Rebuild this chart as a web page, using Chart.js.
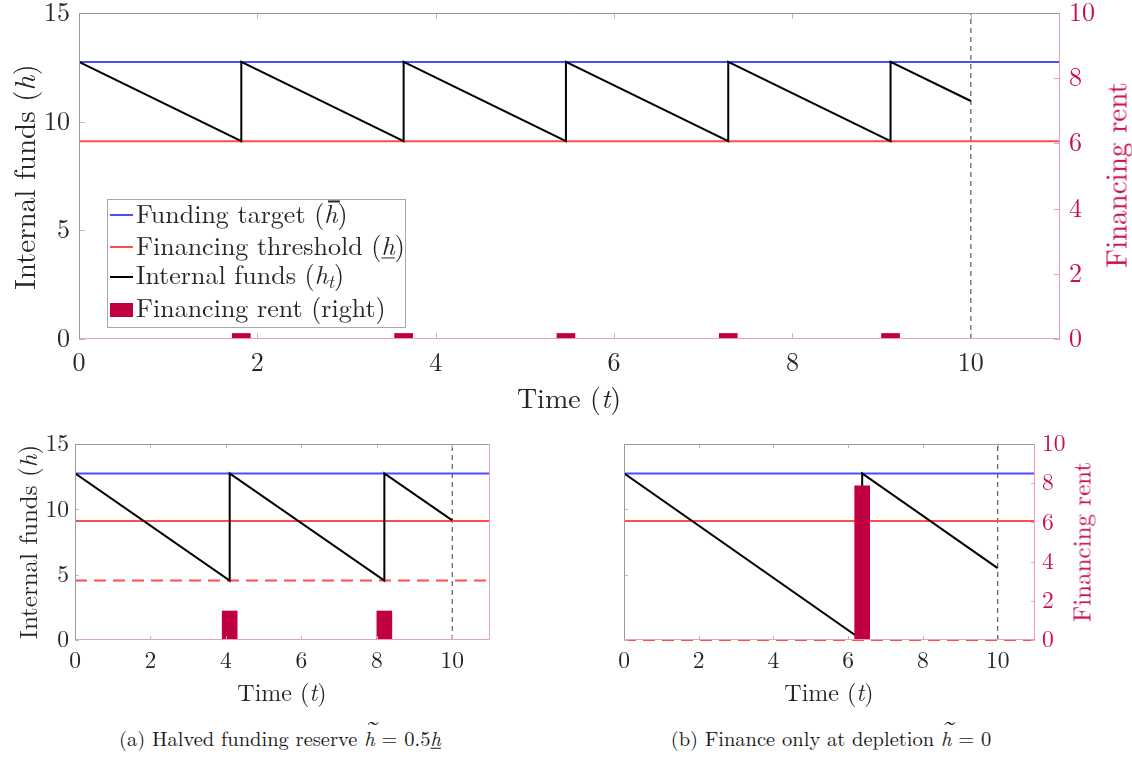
<!DOCTYPE html>
<html>
<head>
<meta charset="utf-8">
<script src="https://cdn.jsdelivr.net/npm/chart.js@4.4.1/dist/chart.umd.min.js"></script>
<style>
  html, body { margin:0; padding:0; background:#fff; }
  body { width:1132px; height:757px; position:relative; overflow:hidden; }
  .box { position:absolute; }
  .t { position:absolute; font-family:'Latin Modern Roman','Liberation Serif',serif; color:#262626; white-space:nowrap; transform:translate(-50%,-50%); line-height:1; }
  .cap { color:#1a1a1a; }
  .rot { transform:translate(-50%,-50%) rotate(-90deg); }
  .crim { color:#c8104a; }
  #legend { position:absolute; left:107px; top:199px; width:297px; height:127px; border:1px solid #a8a8a8; background:#fff; z-index:5; }
  .lrow { position:absolute; left:0; height:30px; width:100%; font-family:'Latin Modern Roman','Liberation Serif',serif; font-size:26px; color:#262626; white-space:nowrap; }
  .lsw { position:absolute; left:2px; width:23px; }
  .ltx { position:absolute; left:28px; top:50%; transform:translateY(-56%); line-height:1; }
  .un { text-decoration:underline; text-decoration-thickness:1px; text-underline-offset:2px; }
  .acc { position:relative; display:inline-block; }
  .acc .bar { position:absolute; left:0.16em; width:0.46em; height:1.5px; background:currentColor; top:0.0em; }
  .acc .tl { position:absolute; left:0.02em; top:-0.5em; font-style:normal; display:inline-block; transform:scaleX(1.6); transform-origin:left center; }
</style>
</head>
<body>
<div class="box" style="left:0;top:0;width:1132px;height:420px"><canvas id="cTop"></canvas></div>
<div class="box" style="left:0;top:420px;width:566px;height:260px"><canvas id="cA"></canvas></div>
<div class="box" style="left:566px;top:420px;width:566px;height:260px"><canvas id="cB"></canvas></div>

<!-- top panel texts -->
<div class="t rot" style="left:22px;top:177px;font-size:29px">Internal funds (<i>h</i>)</div>
<div class="t rot crim" style="left:1114px;top:175px;font-size:29px">Financing rent</div>
<div class="t" style="left:569px;top:396px;font-size:28px">Time (<i>t</i>)</div>

<div id="legend">
  <div class="lrow" style="top:0px"><div class="lsw" style="top:14px;height:2px;background:rgb(77,77,255)"></div><div class="ltx">Funding target (<span class="acc"><i>h</i><span class="bar"></span></span>)</div></div>
  <div class="lrow" style="top:32px"><div class="lsw" style="top:14px;height:2px;background:rgb(255,77,77)"></div><div class="ltx">Financing threshold (<i class="un">h</i>)</div></div>
  <div class="lrow" style="top:62px"><div class="lsw" style="top:14px;height:2px;background:#000"></div><div class="ltx">Internal funds (<i>h</i><sub style="font-size:18px;vertical-align:-4px"><i>t</i></sub>)</div></div>
  <div class="lrow" style="top:94px"><div class="lsw" style="top:9px;height:14px;background:#c0003f"></div><div class="ltx">Financing rent (right)</div></div>
</div>

<!-- panel a texts -->
<div class="t rot" style="left:26px;top:542px;font-size:25px">Internal funds (<i>h</i>)</div>
<div class="t" style="left:282px;top:691px;font-size:24px">Time (<i>t</i>)</div>
<div class="t cap" style="left:280px;top:738px;font-size:20.5px">(a) Halved funding reserve <span class="acc"><i>h</i><span class="tl">&#732;</span></span> = 0.5<i class="un">h</i></div>

<!-- panel b texts -->
<div class="t rot crim" style="left:1080px;top:542px;font-size:25px">Financing rent</div>
<div class="t" style="left:829px;top:691px;font-size:24px">Time (<i>t</i>)</div>
<div class="t cap" style="left:831px;top:738px;font-size:20.5px">(b) Finance only at depletion <span class="acc"><i>h</i><span class="tl">&#732;</span></span> = 0</div>

<script>
// ---------------- data ----------------
const xTicks = [0, 2, 4, 6, 8, 10];
const yLeftTicks = [0, 5, 10, 15];
const yRightTicks = [0, 2, 4, 6, 8, 10];
const timeRange = [0, 11];
const fundsRange = [0, 15];
const rentRange = [0, 10];

const fundingTarget = 12.75;
const financingThreshold = 9.1;
const horizon = 10;

// main panel
const topTimes = [0, 1.82, 1.82, 3.64, 3.64, 5.46, 5.46, 7.28, 7.28, 9.1, 9.1, 10];
const topFunds = [12.75, 9.1, 12.75, 9.1, 12.75, 9.1, 12.75, 9.1, 12.75, 9.1, 12.75, 10.95];
const topRentTimes = [1.82, 3.64, 5.46, 7.28, 9.1];
const topRent = [0.17, 0.17, 0.17, 0.17, 0.17];

// panel (a): halved reserve
const aReserve = 4.55;
const aTimes = [0, 4.1, 4.1, 8.2, 8.2, 10];
const aFunds = [12.75, 4.55, 12.75, 4.55, 12.75, 9.15];
const aRentTimes = [4.1, 8.2];
const aRent = [1.48, 1.48];

// panel (b): finance only at depletion
const bReserve = 0;
const bTimes = [0, 6.375, 6.375, 10];
const bFunds = [12.75, 0, 12.75, 5.5];
const bRentTimes = [6.375];
const bRent = [7.87];

// ---------------- styling ----------------
const FONT = "'Latin Modern Roman','Liberation Serif',serif";
const BLUE = 'rgb(77,77,255)', RED = 'rgb(255,77,77)', CRIMSON = '#c0003f', CRIMSON_TXT = '#c8104a';
const GREY_AX = '#9a9a9a', PINK_AX = '#eaa0b8';

const pts = (xs, ys) => xs.map((x, i) => ({x, y: ys[i]}));
const hline = v => pts(timeRange, [v, v]);
const vline = v => pts([v, v], fundsRange);

const framePlugin = {
  id: 'frame',
  afterDatasetsDraw(chart, args, o) {
    const {ctx, chartArea: {left, right, top, bottom}} = chart;
    const sx = chart.scales.x, sy = chart.scales.y, sr = chart.scales.y2;
    const L = o.tickLen;
    ctx.save();
    ctx.lineWidth = 1;
    const seg = (x1, y1, x2, y2) => { ctx.beginPath(); ctx.moveTo(x1, y1); ctx.lineTo(x2, y2); ctx.stroke(); };
    ctx.strokeStyle = '#b8b8b8';
    xTicks.forEach(v => { const p = Math.round(sx.getPixelForValue(v)) + 0.5; seg(p, bottom, p, bottom - L); seg(p, top, p, top + L); });
    if (o.leftTicks) yLeftTicks.forEach(v => { const p = Math.round(sy.getPixelForValue(v)) + 0.5; seg(left, p, left + L, p); });
    ctx.strokeStyle = PINK_AX;
    if (o.rightTicks) yRightTicks.forEach(v => { const p = Math.round(sr.getPixelForValue(v)) + 0.5; seg(right, p, right - L, p); });
    const l = Math.round(left) + 0.5, r = Math.round(right) - 0.5, t = Math.round(top) + 0.5, b = Math.round(bottom) - 0.5;
    ctx.strokeStyle = GREY_AX; seg(l, t, r, t); seg(l, t, l, b);
    ctx.strokeStyle = PINK_AX; seg(r, t, r, b); seg(l, b, r, b);
    ctx.restore();
  }
};

function makeChart(id, p) {
  const datasets = [
    {type: 'bar', data: pts(p.rentTimes, p.rent), backgroundColor: CRIMSON, borderWidth: 0,
     barThickness: p.barW, xAxisID: 'x', yAxisID: 'y2', order: 0, grouped: false},
    {type: 'line', data: pts(p.times, p.funds), borderColor: '#000', borderWidth: 2, yAxisID: 'y', order: 1},
    {type: 'line', data: hline(fundingTarget), borderColor: BLUE, borderWidth: 2, yAxisID: 'y', order: 3},
    {type: 'line', data: hline(financingThreshold), borderColor: RED, borderWidth: 2, yAxisID: 'y', order: 3},
    {type: 'line', data: vline(horizon), borderColor: '#666', borderWidth: 1.3, borderDash: [5, 4], yAxisID: 'y', order: 4}
  ];
  if (p.reserve !== undefined) {
    datasets.push({type: 'line', data: hline(p.reserve), borderColor: RED, borderWidth: 2, borderDash: [12, 7], yAxisID: 'y', order: 2, clip: false});
  }
  datasets.forEach(d => { if (d.type === 'line') { d.pointRadius = 0; d.tension = 0; d.fill = false; } });

  const tickFont = {family: FONT, size: p.tickSize};
  const vFit = w => s => { s.width = w; s.paddingTop = 0; s.paddingBottom = 0; };
  return new Chart(document.getElementById(id), {
    type: 'line',
    data: {datasets},
    options: {
      responsive: true, maintainAspectRatio: false, animation: false,
      layout: {padding: {top: p.padTop, left: 0, right: 0, bottom: 0}},
      plugins: {legend: {display: false}, tooltip: {enabled: false}, frame: {tickLen: p.tickLen, leftTicks: true, rightTicks: p.rightTicks}},
      scales: {
        x: {type: 'linear', min: timeRange[0], max: timeRange[1], offset: false,
            grid: {display: false, drawTicks: false}, border: {display: false},
            afterBuildTicks: s => { s.ticks = xTicks.map(v => ({value: v})); },
            afterFit: s => { s.height = p.xH; s.paddingLeft = 0; s.paddingRight = 0; },
            ticks: {font: tickFont, color: '#262626', padding: p.xPad, maxRotation: 0, autoSkip: false}},
        y: {type: 'linear', position: 'left', min: fundsRange[0], max: fundsRange[1],
            grid: {display: false, drawTicks: false}, border: {display: false},
            afterBuildTicks: s => { s.ticks = yLeftTicks.map(v => ({value: v})); },
            afterFit: vFit(p.leftW),
            ticks: {display: p.leftLabels, font: tickFont, color: '#262626', padding: p.yPad, autoSkip: false}},
        y2: {type: 'linear', position: 'right', min: rentRange[0], max: rentRange[1],
            grid: {display: false, drawTicks: false}, border: {display: false},
            afterBuildTicks: s => { s.ticks = yRightTicks.map(v => ({value: v})); },
            afterFit: vFit(p.rightW),
            ticks: {display: p.rightLabels, font: tickFont, color: CRIMSON_TXT, padding: p.yPad, autoSkip: false}}
      }
    },
    plugins: [framePlugin]
  });
}

makeChart('cTop', {times: topTimes, funds: topFunds, rentTimes: topRentTimes, rent: topRent, barW: 18,
  padTop: 13, xH: 81, leftW: 79, rightW: 72, tickSize: 26, xPad: 8, yPad: 9, tickLen: 6,
  leftLabels: true, rightLabels: true, rightTicks: true});
makeChart('cA', {times: aTimes, funds: aFunds, rentTimes: aRentTimes, rent: aRent, barW: 15, reserve: aReserve,
  padTop: 24, xH: 40, leftW: 75, rightW: 76, tickSize: 23.5, xPad: 7, yPad: 6, tickLen: 4,
  leftLabels: true, rightLabels: false, rightTicks: false});
makeChart('cB', {times: bTimes, funds: bFunds, rentTimes: bRentTimes, rent: bRent, barW: 15, reserve: bReserve,
  padTop: 24, xH: 40, leftW: 58, rightW: 97, tickSize: 23.5, xPad: 7, yPad: 7, tickLen: 4,
  leftLabels: false, rightLabels: true, rightTicks: true});
</script>
</body>
</html>
